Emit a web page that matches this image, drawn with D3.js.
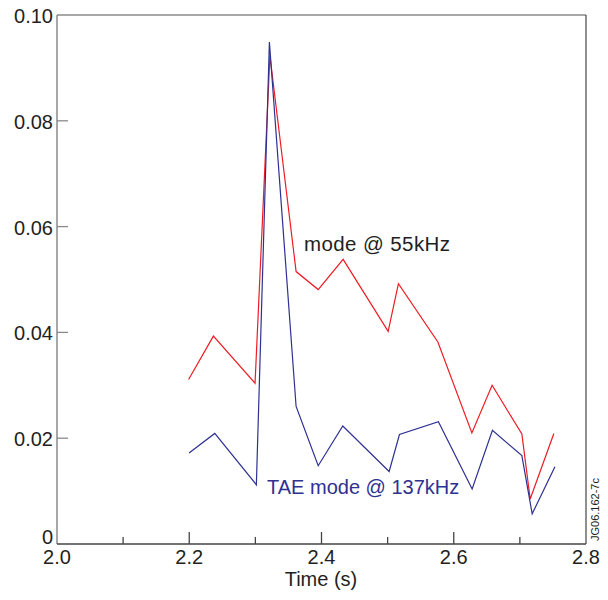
<!DOCTYPE html>
<html>
<head>
<meta charset="utf-8">
<script src="https://cdn.jsdelivr.net/npm/d3@7"></script>
<style>
  body { margin: 0; background: #fff; }
  text { font-family: "Liberation Sans", Helvetica, Arial, sans-serif; }
</style>
</head>
<body>
<script>
// mode @ 55kHz (red)
const redTime = [2.199, 2.2365, 2.2995, 2.322, 2.3616, 2.395, 2.4327, 2.5008, 2.5163, 2.576, 2.6274, 2.658, 2.703, 2.7156, 2.7514];
const redAmp  = [0.0311, 0.0393, 0.0304, 0.0923, 0.0515, 0.0481, 0.0538, 0.0402, 0.0492, 0.0382, 0.0210, 0.0300, 0.0208, 0.0085, 0.0209];
// TAE mode @ 137kHz (blue)
const blueTime = [2.1997, 2.2386, 2.3015, 2.3212, 2.3616, 2.395, 2.4322, 2.5023, 2.5179, 2.5768, 2.6278, 2.6585, 2.703, 2.7186, 2.753];
const blueAmp  = [0.0172, 0.0209, 0.0112, 0.0949, 0.0260, 0.0148, 0.0223, 0.0137, 0.0207, 0.0231, 0.0104, 0.0215, 0.0167, 0.0057, 0.0146];

const xTicks = [2.0, 2.2, 2.4, 2.6, 2.8];
const xMinor = [2.1, 2.3, 2.5, 2.7];
const yTicks = [0, 0.02, 0.04, 0.06, 0.08, 0.10];

const width = 608;
const height = 600;

const svg = d3.select('body')
            .append('svg')
            .attr('width', width)
            .attr('height', height);

const plot = {left: 57, right: 586, top: 15, bottom: 544};

const x = d3.scaleLinear().domain([2.0, 2.8]).range([plot.left, plot.right]);
const y = d3.scaleLinear().domain([0, 0.10]).range([plot.bottom, plot.top]);

// frame: left/top grey, bottom/right dark
svg.append('line').attr('x1', plot.left).attr('x2', plot.left).attr('y1', plot.top).attr('y2', plot.bottom)
   .attr('stroke', '#8a8a8a').attr('stroke-width', 1.5);
svg.append('line').attr('x1', plot.left).attr('x2', plot.right).attr('y1', plot.top).attr('y2', plot.top)
   .attr('stroke', '#8a8a8a').attr('stroke-width', 1.5);
svg.append('line').attr('x1', plot.left).attr('x2', plot.right).attr('y1', plot.bottom).attr('y2', plot.bottom)
   .attr('stroke', '#444').attr('stroke-width', 1.5);
svg.append('line').attr('x1', plot.right).attr('x2', plot.right).attr('y1', plot.top).attr('y2', plot.bottom)
   .attr('stroke', '#444').attr('stroke-width', 1.2);

// y ticks
svg.selectAll('.ytick').data(yTicks.slice(1, -1)).enter().append('line')
   .attr('x1', plot.left).attr('x2', plot.left + 11)
   .attr('y1', d => y(d)).attr('y2', d => y(d))
   .attr('stroke', '#8a8a8a').attr('stroke-width', 1.3);
svg.selectAll('.ylab').data(yTicks).enter().append('text')
   .attr('x', plot.left - 4).attr('y', d => d === 0 ? y(d) : y(d) + 8)
   .attr('text-anchor', 'end')
   .attr('font-size', 20).attr('fill', '#231f20')
   .text(d => d === 0 ? '0' : d.toFixed(2));

// x ticks
svg.selectAll('.xtick').data(xTicks.slice(1, -1)).enter().append('line')
   .attr('x1', d => x(d)).attr('x2', d => x(d))
   .attr('y1', plot.bottom).attr('y2', plot.bottom - 12)
   .attr('stroke', '#444').attr('stroke-width', 1.3);
svg.selectAll('.xminor').data(xMinor).enter().append('line')
   .attr('x1', d => x(d)).attr('x2', d => x(d))
   .attr('y1', plot.bottom).attr('y2', plot.bottom - 7)
   .attr('stroke', '#444').attr('stroke-width', 1.3);
svg.selectAll('.xlab').data(xTicks).enter().append('text')
   .attr('x', d => x(d)).attr('y', plot.bottom + 20)
   .attr('text-anchor', 'middle')
   .attr('font-size', 20).attr('fill', '#231f20')
   .text(d => d.toFixed(1));

svg.append('text')
   .attr('x', 321).attr('y', 586)
   .attr('text-anchor', 'middle')
   .attr('font-size', 20).attr('fill', '#231f20')
   .text('Time (s)');

// series
const line = d3.line().x(d => x(d[0])).y(d => y(d[1]));

svg.append('path')
   .attr('d', line(d3.zip(redTime, redAmp)))
   .attr('fill', 'none').attr('stroke', '#ed1c24').attr('stroke-width', 1.2);
svg.append('path')
   .attr('d', line(d3.zip(blueTime, blueAmp)))
   .attr('fill', 'none').attr('stroke', '#2e3192').attr('stroke-width', 1.2);

// labels
svg.append('text')
   .attr('x', 304).attr('y', 251)
   .attr('font-size', 20.5).attr('fill', '#231f20')
   .attr('textLength', 146)
   .text('mode @ 55kHz');
svg.append('text')
   .attr('x', 267).attr('y', 494)
   .attr('font-size', 20).attr('fill', '#2e3192')
   .text('TAE mode @ 137kHz');

svg.append('text')
   .attr('transform', 'translate(599,541) rotate(-90)')
   .attr('font-size', 11).attr('fill', '#231f20')
   .text('JG06.162-7c');
</script>
</body>
</html>
